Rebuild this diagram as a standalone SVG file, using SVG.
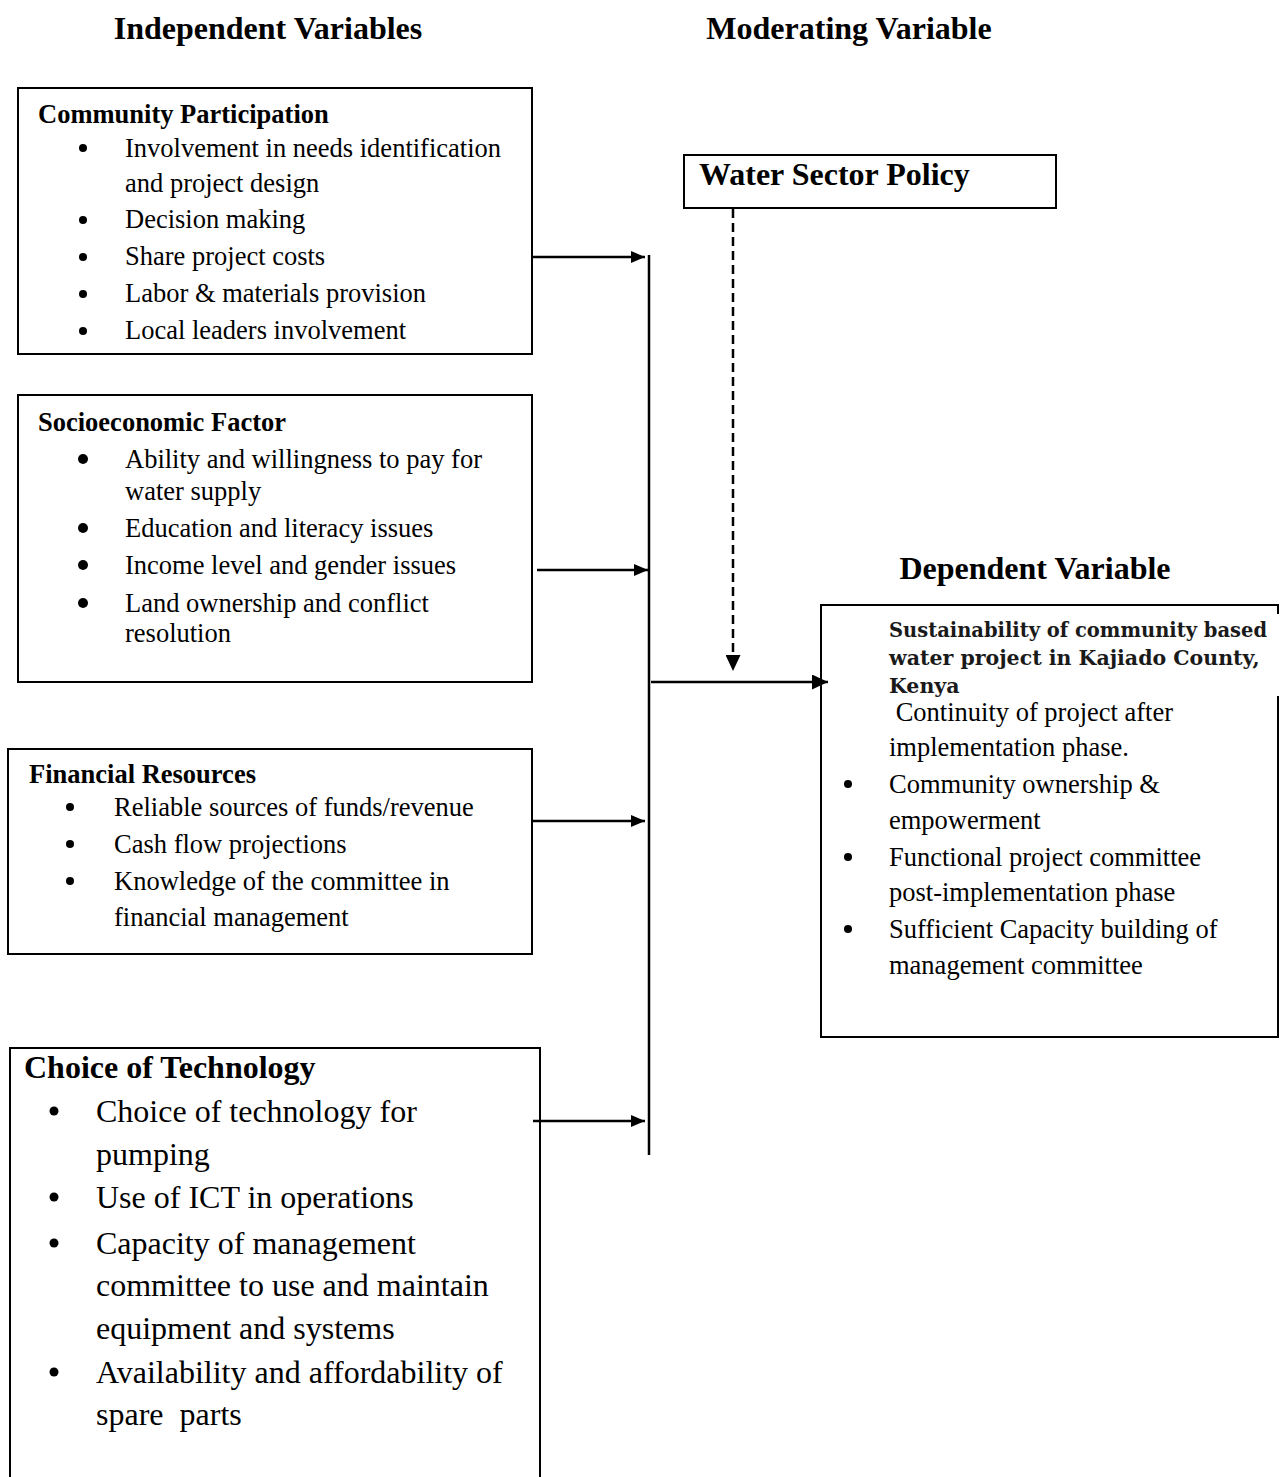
<svg xmlns="http://www.w3.org/2000/svg" width="1281" height="1477" viewBox="0 0 1281 1477">
<style>
.box{fill:#fff;stroke:#000;stroke-width:2}
.h{font-family:"Liberation Serif","Times New Roman",serif;font-weight:bold;font-size:32px;fill:#000}
.t{font-family:"Liberation Serif","Times New Roman",serif;font-weight:bold;font-size:26.5px;fill:#000}
.b{font-family:"Liberation Serif","Times New Roman",serif;font-size:26.5px;fill:#000}
.bl{font-family:"Liberation Serif","Times New Roman",serif;font-size:32px;fill:#000}
.dt{font-family:"DejaVu Serif",serif;font-weight:bold;font-size:20.5px;fill:#1a1a1a}
.ln{stroke:#000;stroke-width:2.5;fill:none}
</style>
<defs>
<marker id="ah" viewBox="0 0 10 10" refX="10" refY="5" markerWidth="14" markerHeight="12" markerUnits="userSpaceOnUse" orient="auto" preserveAspectRatio="none">
<path d="M0,0 L10,5 L0,10 Z" fill="#000"/>
</marker>
<marker id="ahb" viewBox="0 0 10 10" refX="10" refY="5" markerWidth="16" markerHeight="15" markerUnits="userSpaceOnUse" orient="auto" preserveAspectRatio="none">
<path d="M0,0 L10,5 L0,10 Z" fill="#000"/>
</marker>
</defs>
<rect width="1281" height="1477" fill="#fff"/>

<g id="headings">
<text class="h" x="268" y="39" text-anchor="middle">Independent Variables</text>
<text class="h" x="849" y="39" text-anchor="middle">Moderating Variable</text>
<text class="h" x="1035" y="579" text-anchor="middle">Dependent Variable</text>
</g>

<g id="community">
<rect class="box" x="18" y="88" width="514" height="266"/>
<text class="t" x="38" y="123">Community Participation</text>
<g class="b">
<circle cx="83" cy="148" r="4"/><text x="125" y="157">Involvement in needs identification</text>
<text x="125" y="192">and project design</text>
<circle cx="83" cy="220" r="4"/><text x="125" y="228">Decision making</text>
<circle cx="83" cy="257" r="4"/><text x="125" y="265">Share project costs</text>
<circle cx="83" cy="294" r="4"/><text x="125" y="302">Labor &amp; materials provision</text>
<circle cx="83" cy="331" r="4"/><text x="125" y="339">Local leaders involvement</text>
</g>
</g>

<g id="socioeconomic">
<rect class="box" x="18" y="395" width="514" height="287"/>
<text class="t" x="38" y="431">Socioeconomic Factor</text>
<g class="b">
<circle cx="83" cy="459" r="5"/><text x="125" y="468">Ability and willingness to pay for</text>
<text x="125" y="500">water supply</text>
<circle cx="83" cy="528" r="5"/><text x="125" y="537">Education and literacy issues</text>
<circle cx="83" cy="565" r="5"/><text x="125" y="574">Income level and gender issues</text>
<circle cx="83" cy="603" r="5"/><text x="125" y="612">Land ownership and conflict</text>
<text x="125" y="642">resolution</text>
</g>
</g>

<g id="financial">
<rect class="box" x="8" y="749" width="524" height="205"/>
<text class="t" x="29" y="783">Financial Resources</text>
<g class="b">
<circle cx="70" cy="807" r="4"/><text x="114" y="816">Reliable sources of funds/revenue</text>
<circle cx="70" cy="844" r="4"/><text x="114" y="853">Cash flow projections</text>
<circle cx="70" cy="881" r="4"/><text x="114" y="890">Knowledge of the committee in</text>
<text x="114" y="926">financial management</text>
</g>
</g>

<g id="technology">
<rect class="box" x="10" y="1048" width="530" height="440"/>
<text class="h" x="24" y="1078">Choice of Technology</text>
<g class="bl">
<circle cx="54" cy="1111" r="4.5"/><text x="96" y="1122">Choice of technology for</text>
<text x="96" y="1165">pumping</text>
<circle cx="54" cy="1197" r="4.5"/><text x="96" y="1208">Use of ICT in operations</text>
<circle cx="54" cy="1243" r="4.5"/><text x="96" y="1254">Capacity of management</text>
<text x="96" y="1296">committee to use and maintain</text>
<text x="96" y="1339">equipment and systems</text>
<circle cx="54" cy="1372" r="4.5"/><text x="96" y="1383">Availability and affordability of</text>
<text x="96" y="1425" xml:space="preserve">spare  parts</text>
</g>
</g>

<g id="policy">
<rect class="box" x="684" y="155" width="372" height="53"/>
<text class="h" x="699" y="185" font-size="33">Water Sector Policy</text>
</g>

<g id="dependent">
<rect class="box" x="821" y="605" width="457" height="432"/>
<rect x="886" y="614" width="394" height="82" fill="#fff"/>
<text class="dt" x="889" y="637" font-size="18" textLength="378" lengthAdjust="spacingAndGlyphs">Sustainability of community based</text>
<text class="dt" x="889" y="665">water project in Kajiado County,</text>
<text class="dt" x="889" y="693">Kenya</text>
<g class="b">
<text x="889" y="721" xml:space="preserve"> Continuity of project after</text>
<text x="889" y="756">implementation phase.</text>
<circle cx="848" cy="784" r="4"/><text x="889" y="793">Community ownership &amp;</text>
<text x="889" y="829">empowerment</text>
<circle cx="848" cy="857" r="4"/><text x="889" y="866">Functional project committee</text>
<text x="889" y="901">post-implementation phase</text>
<circle cx="848" cy="929" r="4"/><text x="889" y="938">Sufficient Capacity building of</text>
<text x="889" y="974">management committee</text>
</g>
</g>

<g id="connectors">
<line class="ln" x1="649" y1="255" x2="649" y2="1155"/>
<line class="ln" x1="532" y1="257" x2="645" y2="257" marker-end="url(#ah)"/>
<line class="ln" x1="537" y1="570" x2="648" y2="570" marker-end="url(#ah)"/>
<line class="ln" x1="532" y1="821" x2="645" y2="821" marker-end="url(#ah)"/>
<line class="ln" x1="533" y1="1121" x2="645" y2="1121" marker-end="url(#ah)"/>
<line class="ln" x1="651" y1="682" x2="828" y2="682" marker-end="url(#ahb)"/>
<line class="ln" x1="733" y1="209" x2="733" y2="671" stroke-dasharray="9,5" marker-end="url(#ahb)"/>
</g>
</svg>
